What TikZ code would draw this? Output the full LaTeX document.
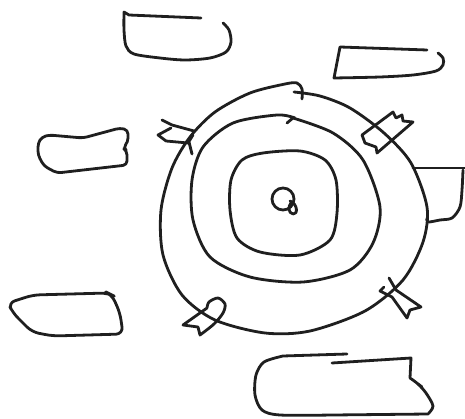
\documentclass[tikz,border=0pt]{standalone}
\begin{document}
\begin{tikzpicture}[x=1pt,y=-1pt,
  ink/.style={line width=2.8pt, line cap=round, line join=round, black!88}]
\useasboundingbox (0,0) rectangle (465,419);
% top box
\draw[ink] (201,18) -- (129,15) -- (124,12) -- plot[smooth] coordinates {(124,12)(124,30)(126,46)(134,54)(160,58)(185,60)(210,58)(226,52)(231,42)(229,30)(223,23)};
% top right box
\draw[ink] (427,50) -- (340,47) -- (334,78) -- plot[smooth] coordinates {(334,78)(380,77)(413,75)(436,71)(443,65)(443,58)(438,53)};
% left box
\draw[ink, rounded corners=4pt] (38,143) -- (42,137) -- (49,135) -- (83,138) -- (120,128) -- (128,130) -- (128,142) -- (123,148) -- (127,151) -- (127,165) -- (57,173) -- (44,166) -- (38,155) -- cycle;
% bottom left box
\draw[ink, rounded corners=7pt] (8,303) -- (33,295) -- (108,293) -- (112,295) -- (120,313) -- (123,334) -- (53,336) -- (32,332) -- (13,313) -- cycle;
% bottom right box
\draw[ink] (347,354) -- (283,356) -- plot[smooth] coordinates {(283,356)(264,362)(256,375)(255,395)(262,410)(280,415)(333,415)} -- (428,414) -- plot[smooth] coordinates {(428,414)(433,406)(426,393)(418,384)(410,378)} -- (411,358) -- (332,363);
\draw[ink] (418,384) -- (422,387);
% right edge box
\draw[ink] (413,168) -- (466,168);
\draw[ink] plot[smooth] coordinates {(463,170)(462,190)(460,207)(452,218)(440,220)(428,222)(427,218)};
% outer circle
\draw[ink] plot[smooth] coordinates {(302,99)(302,89)(297,83)(285,84)(250,93)(215,112)(190,137)(172,168)(161,210)(163,255)(182,295)(215,320)(265,333)(310,331)(365,311)(403,280)(423,242)(427,207)(411,163)(384,133)(350,108)(320,96)(294,92)};
% middle ring
\draw[ink] (287,123) -- (293,118) -- plot[smooth] coordinates {(293,118)(333,133)(363,160)(380,207)(373,243)(350,270)(303,282)(250,277)(210,257)(193,220)(192,180)(203,147)(233,123)(277,115)(295,118)};
% inner ring
\draw[ink] plot[smooth cycle] coordinates {(263,153)(300,151)(325,160)(336,180)(337,213)(330,240)(300,255)(260,252)(237,238)(230,210)(231,180)(242,160)};
% centre
\draw[ink] (283,199) ellipse [x radius=11, y radius=11];
\draw[ink] (290,201) .. controls (298,204) and (298,215) .. (293,214) .. controls (288,213) and (288,206) .. (291,203);
% flag upper left
\draw[ink] (162,120) -- (172,125) -- (194,131);
\draw[ink] (171,128) -- (158,135) -- (166,141) -- (188,143) -- (193,135);
\draw[ink] (189,142) -- (192,154);
% flag lower left
\draw[ink] (207,308) -- (183,325) -- (198,327) -- (200,335) -- plot[smooth] coordinates {(200,335)(214,324)(223,313)(225,304)(218,298)(209,302)(207,308)};
% flag lower right
\draw[ink] (389,278) -- (396,290) -- (421,307) -- (410,310) -- (407,318) -- (392,297) -- (380,291) -- (384,287);
% flag upper right
\draw[ink] (362,135) -- (393,112) -- (396,118) -- (402,115) -- (403,121) -- (413,122) -- (377,153) -- (376,147) -- (365,143) -- cycle;
\end{tikzpicture}
\end{document}
